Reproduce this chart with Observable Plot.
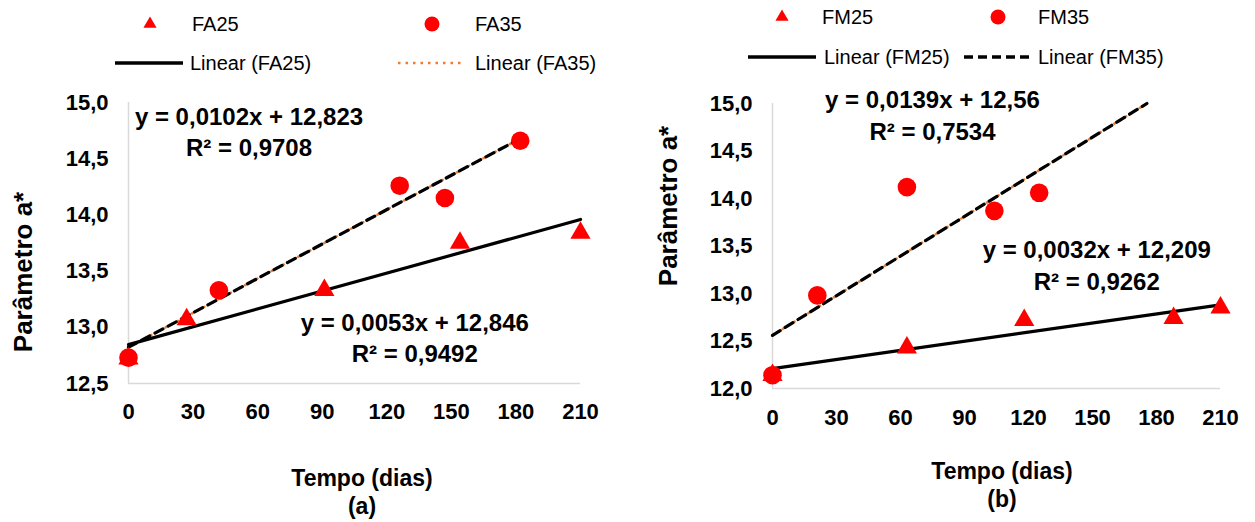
<!DOCTYPE html>
<html>
<head>
<meta charset="utf-8">
<script src="https://cdn.jsdelivr.net/npm/d3@7"></script>
<script src="https://cdn.jsdelivr.net/npm/@observablehq/plot@0.6"></script>
<style>
  html, body { margin: 0; padding: 0; background: #fff; }
  #wrap { position: relative; width: 1255px; height: 522px; overflow: hidden; font-family: "Liberation Sans", Arial, sans-serif; }
  .abs { position: absolute; white-space: nowrap; color: #000; }
  .leg { font-size: 20px; line-height: 24px; }
  .ttl { font-size: 23px; font-weight: bold; line-height: 28px; transform: translate(-50%, -50%); }
  .ylab { font-size: 26px; font-weight: bold; line-height: 30px; transform: translate(-50%, -50%) rotate(-90deg); }
</style>
</head>
<body>
<div id="wrap"></div>
<script>
// ---------------- data ----------------
const xTicks = [0, 30, 60, 90, 120, 150, 180, 210];
const yTicksA = [12.5, 13.0, 13.5, 14.0, 14.5, 15.0];
const yTicksB = [12.0, 12.5, 13.0, 13.5, 14.0, 14.5, 15.0];

// Panel (a)
const daysFA25 = [0, 27, 91, 154, 210];
const valsFA25 = [12.72, 13.07, 13.33, 13.75, 13.84];
const daysFA35 = [0, 42, 126, 147, 182];
const valsFA35 = [12.73, 13.33, 14.26, 14.15, 14.66];
const trendDaysFA25 = [0, 210];
const trendValsFA25 = [12.846, 13.959];
const trendDaysFA35 = [0, 182];
const trendValsFA35 = [12.823, 14.679];
const eqFA = ["y = 0,0102x + 12,823\nR² = 0,9708", "y = 0,0053x + 12,846\nR² = 0,9492"];

// Panel (b)
const daysFM25 = [0, 63, 118, 188, 210];
const valsFM25 = [12.14, 12.43, 12.72, 12.74, 12.85];
const daysFM35 = [0, 21, 63, 104, 125];
const valsFM35 = [12.14, 12.98, 14.12, 13.87, 14.06];
const trendDaysFM25 = [0, 210];
const trendValsFM25 = [12.209, 12.881];
const trendDaysFM35 = [0, 175.5];
const trendValsFM35 = [12.56, 15.0];
const eqFM = ["y = 0,0139x + 12,56\nR² = 0,7534", "y = 0,0032x + 12,209\nR² = 0,9262"];

// annotation anchors (data units)
const eqAnchorA = [{x: 56, y: 14.75}, {x: 133, y: 12.92}];
const eqAnchorB = [{x: 75, y: 14.89}, {x: 152, y: 13.31}];

// ---------------- helpers ----------------
const FONT = '"Liberation Sans", Arial, sans-serif';
const RED = "#ff0000";
const ORANGE = "#ED7D31";
const AXIS = "#d9d9d9";
const zip = (xs, ys) => xs.map((x, i) => ({x, y: ys[i]}));
const fmt = d => d.toFixed(1).replace(".", ",");

function panel(o) {
  return Plot.plot({
    width: o.width, height: 522,
    marginLeft: o.ml, marginRight: o.mr, marginTop: o.mt, marginBottom: o.mb,
    style: {fontFamily: FONT, fontSize: "22px", fontWeight: "bold", color: "#000", background: "transparent", overflow: "visible"},
    x: {domain: [0, 210], ticks: xTicks, tickSize: 0, tickPadding: o.xpad, label: null},
    y: {domain: o.ydomain, ticks: o.yticks, tickSize: 0, tickPadding: 20, tickFormat: fmt, label: null},
    marks: [
      Plot.ruleX([0], {stroke: AXIS, strokeWidth: 1.5}),
      Plot.ruleY([o.ydomain[0]], {stroke: AXIS, strokeWidth: 1.5}),
      Plot.line(o.t35, {x: "x", y: "y", stroke: ORANGE, strokeWidth: 2.5, strokeDasharray: "2,4"}),
      Plot.line(o.t35, {x: "x", y: "y", stroke: "#000", strokeWidth: 3.2, strokeDasharray: "9,6"}),
      Plot.line(o.t25, {x: "x", y: "y", stroke: "#000", strokeWidth: 3.2}),
      Plot.dot(o.s25, {x: "x", y: "y", symbol: "triangle", r: 7.5, fill: RED}),
      Plot.dot(o.s35, {x: "x", y: "y", symbol: "circle", r: 9.3, fill: RED}),
      Plot.text(o.eq, {x: (d, i) => o.anchors[i].x, y: (d, i) => o.anchors[i].y, text: d => d,
        fontSize: 24, fontWeight: "bold", lineHeight: 1.3, lineAnchor: "middle", textAnchor: "middle", fill: "#000"})
    ]
  });
}

const wrap = document.getElementById("wrap");

const pa = panel({
  width: 627, ml: 128, mr: 47, mt: 102, mb: 139, xpad: 20,
  ydomain: [12.5, 15], yticks: yTicksA,
  s25: zip(daysFA25, valsFA25), s35: zip(daysFA35, valsFA35),
  t25: zip(trendDaysFA25, trendValsFA25), t35: zip(trendDaysFA35, trendValsFA35),
  eq: eqFA, anchors: eqAnchorA
});
pa.style.position = "absolute"; pa.style.left = "0px"; pa.style.top = "0px";
wrap.appendChild(pa);

const pb = panel({
  width: 628, ml: 145, mr: 35, mt: 103, mb: 134, xpad: 21,
  ydomain: [12, 15], yticks: yTicksB,
  s25: zip(daysFM25, valsFM25), s35: zip(daysFM35, valsFM35),
  t25: zip(trendDaysFM25, trendValsFM25), t35: zip(trendDaysFM35, trendValsFM35),
  eq: eqFM, anchors: eqAnchorB
});
pb.style.position = "absolute"; pb.style.left = "627px"; pb.style.top = "0px";
wrap.appendChild(pb);

// ---------------- legends & titles ----------------
const leg = d3.select(wrap).append("svg")
  .attr("width", 1255).attr("height", 80)
  .style("position", "absolute").style("left", "0px").style("top", "0px");

function legSym(type, cx, cy) {
  if (type === "triangle") {
    leg.append("path").attr("d", d3.symbol(d3.symbolTriangle, 75)())
      .attr("transform", `translate(${cx},${cy})`).attr("fill", RED);
  } else {
    leg.append("circle").attr("cx", cx).attr("cy", cy).attr("r", 7.5).attr("fill", RED);
  }
}
function legLine(x1, x2, y, stroke, dash, w) {
  leg.append("line").attr("x1", x1).attr("x2", x2).attr("y1", y).attr("y2", y)
    .attr("stroke", stroke).attr("stroke-width", w).attr("stroke-dasharray", dash || null);
}
legSym("triangle", 150, 24);
legSym("circle", 432, 24);
legLine(115, 183, 63, "#000", null, 3.5);
legLine(398, 464, 63, ORANGE, "2.5,5", 2.5);
legSym("triangle", 782, 17);
legSym("circle", 998, 17);
legLine(748, 816, 57, "#000", null, 3.5);
legLine(964, 1032, 57, "#000", "9,5", 3.5);

function label(cls, text, x, y) {
  const d = document.createElement("div");
  d.className = "abs " + cls;
  d.textContent = text;
  d.style.left = x + "px";
  d.style.top = y + "px";
  wrap.appendChild(d);
}
// legend texts (left, top of line box)
label("leg", "FA25", 192, 12);
label("leg", "FA35", 475, 12);
label("leg", "Linear (FA25)", 190, 51);
label("leg", "Linear (FA35)", 475, 51);
label("leg", "FM25", 822, 5);
label("leg", "FM35", 1038, 5);
label("leg", "Linear (FM25)", 824, 45);
label("leg", "Linear (FM35)", 1038, 45);
// axis titles (centers)
label("ylab", "Parâmetro a*", 23, 272);
label("ylab", "Parâmetro a*", 668, 206);
label("ttl", "Tempo (dias)", 362, 478);
label("ttl", "(a)", 362, 506);
label("ttl", "Tempo (dias)", 1002, 471);
label("ttl", "(b)", 1002, 499);
</script>
</body>
</html>
